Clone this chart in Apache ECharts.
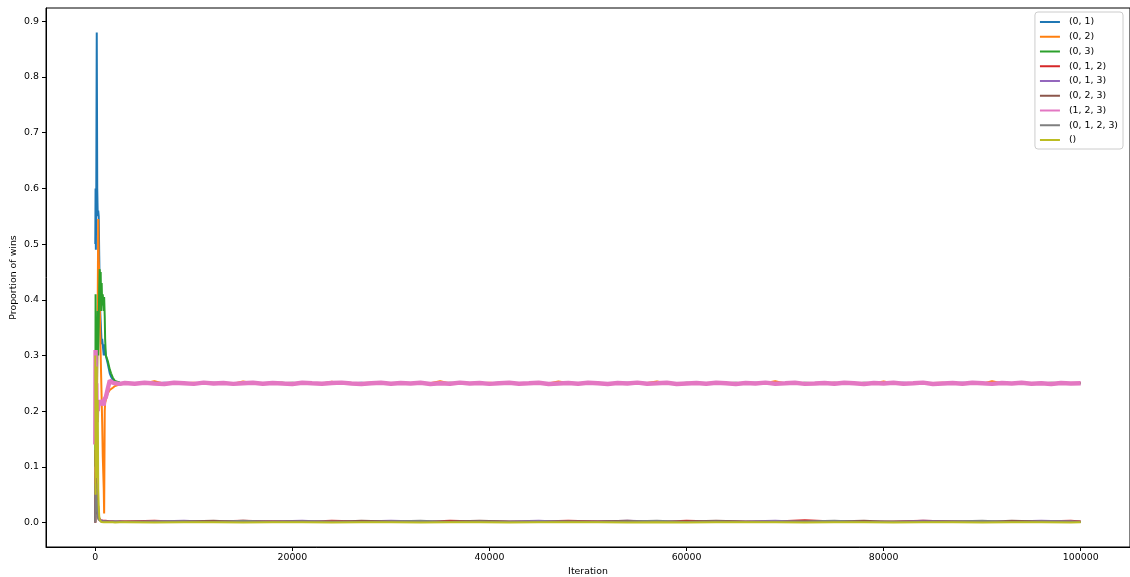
<!DOCTYPE html>
<html>
<head>
<meta charset="utf-8">
<script src="https://cdn.jsdelivr.net/npm/echarts@6/dist/echarts.min.js"></script>
<style>
  html, body { margin: 0; padding: 0; background: #fff; }
  #chart { width: 1130px; height: 577px; }
</style>
</head>
<body>
<div id="chart"></div>
<script>
// Coalitions tracked during training
const seriesNames = ['(0, 1)', '(0, 2)', '(0, 3)', '(0, 1, 2)', '(0, 1, 3)', '(0, 2, 3)', '(1, 2, 3)', '(0, 1, 2, 3)', '()'];
const colors = ['#1f77b4', '#ff7f0e', '#2ca02c', '#d62728', '#9467bd', '#8c564b', '#e377c2', '#7f7f7f', '#bcbd22'];
const lineWidths = [2, 2, 2, 2, 2, 2, 4.4, 2, 2];

const xTicks = [0, 20000, 40000, 60000, 80000, 100000];
const yTicks = [0.0, 0.1, 0.2, 0.3, 0.4, 0.5, 0.6, 0.7, 0.8, 0.9];

// Iterations sampled during the early, unsettled phase
const earlyIters = [0, 30, 60, 100, 150, 200, 250, 300, 350, 400, 450, 500, 550, 600, 650, 700, 760, 860, 900, 960, 1000, 1070, 1270, 1470, 1600, 1780, 2000, 2500];

// Iterations sampled once the proportions have settled
const fineIters = [3000, 4000, 5000, 6000, 7000, 8000, 9000, 10000, 11000, 12000,
  13000, 14000, 15000, 16000, 17000, 18000, 19000, 20000, 21000, 22000,
  23000, 24000, 25000, 26000, 27000, 28000, 29000, 30000, 31000, 32000,
  33000, 34000, 35000, 36000, 37000, 38000, 39000, 40000, 41000, 42000,
  43000, 44000, 45000, 46000, 47000, 48000, 49000, 50000, 51000, 52000,
  53000, 54000, 55000, 56000, 57000, 58000, 59000, 60000, 61000, 62000,
  63000, 64000, 65000, 66000, 67000, 68000, 69000, 70000, 71000, 72000,
  73000, 74000, 75000, 76000, 77000, 78000, 79000, 80000, 81000, 82000,
  83000, 84000, 85000, 86000, 87000, 88000, 89000, 90000, 91000, 92000,
  93000, 94000, 95000, 96000, 97000, 98000, 99000, 99999];
const coarseIters = [3000, 6000, 9000, 12000, 15000, 18000, 21000, 24000, 27000, 30000,
  33000, 36000, 39000, 42000, 45000, 48000, 51000, 54000, 57000, 60000,
  63000, 66000, 69000, 72000, 75000, 78000, 81000, 84000, 87000, 90000,
  93000, 96000, 99000, 99999];

// (0, 1)
const early01 = [0.50, 0.60, 0.49, 0.58, 0.88, 0.60, 0.55, 0.56, 0.55, 0.48, 0.42, 0.38, 0.36, 0.34, 0.32, 0.33, 0.33, 0.30, 0.31, 0.32, 0.31, 0.30, 0.285, 0.268, 0.262, 0.256, 0.253, 0.251];
const late01 = [0.2500,0.2495,0.2505,0.2492,0.2508,0.2500,0.2495,0.2505,0.2500,0.2492,
  0.2508,0.2495,0.2500,0.2505,0.2492,0.2500,0.2508,0.2495,0.2505,0.2500,
  0.2492,0.2505,0.2500,0.2495,0.2508,0.2492,0.2500,0.2505,0.2495,0.2500,
  0.2508,0.2492,0.2505,0.2500,0.2495,0.2505,0.2492,0.2500,0.2508,0.2495,
  0.2500,0.2505,0.2492,0.2495,0.2508,0.2500,0.2505,0.2495,0.2492,0.2500,
  0.2505,0.2508,0.2495,0.2500,0.2492,0.2505,0.2500,0.2495,0.2508,0.2500,
  0.2492,0.2505,0.2495,0.2500,0.2508,0.2492,0.2500,0.2505,0.2495,0.2500,
  0.2505,0.2492,0.2508,0.2495,0.2500,0.2505,0.2495,0.2492,0.2500,0.2508,
  0.2495,0.2500,0.2505,0.2492,0.2500,0.2508,0.2495,0.2505,0.2500,0.2492,
  0.2505,0.2495,0.2500,0.2508,0.2492,0.2500,0.2505,0.2500];

// (0, 2)
const early02 = [0.00, 0.10, 0.05, 0.18, 0.12, 0.28, 0.40, 0.545, 0.47, 0.45, 0.40, 0.34, 0.30, 0.26, 0.22, 0.18, 0.12, 0.06, 0.016, 0.20, 0.215, 0.22, 0.232, 0.238, 0.240, 0.242, 0.245, 0.248];
const late02 = [0.2495,0.2505,0.2500,0.2535,0.2492,0.2505,0.2500,0.2508,0.2495,0.2505,
  0.2500,0.2492,0.2532,0.2500,0.2495,0.2505,0.2508,0.2492,0.2500,0.2505,
  0.2495,0.2530,0.2500,0.2492,0.2505,0.2508,0.2495,0.2500,0.2505,0.2492,
  0.2505,0.2500,0.2536,0.2495,0.2492,0.2505,0.2500,0.2508,0.2495,0.2505,
  0.2492,0.2505,0.2500,0.2495,0.2534,0.2505,0.2492,0.2500,0.2508,0.2495,
  0.2505,0.2492,0.2500,0.2505,0.2531,0.2495,0.2500,0.2505,0.2492,0.2505,
  0.2508,0.2495,0.2500,0.2492,0.2505,0.2505,0.2535,0.2495,0.2500,0.2492,
  0.2505,0.2500,0.2508,0.2495,0.2505,0.2492,0.2500,0.2533,0.2495,0.2505,
  0.2500,0.2492,0.2505,0.2508,0.2495,0.2500,0.2505,0.2492,0.2536,0.2500,
  0.2495,0.2505,0.2505,0.2492,0.2500,0.2508,0.2495,0.2505];

// (0, 3)
const early03 = [0.10, 0.41, 0.25, 0.35, 0.20, 0.30, 0.38, 0.30, 0.36, 0.42, 0.455, 0.40, 0.45, 0.38, 0.43, 0.39, 0.41, 0.38, 0.405, 0.37, 0.33, 0.30, 0.29, 0.275, 0.268, 0.26, 0.254, 0.251];
const late03 = [0.2505,0.2500,0.2492,0.2508,0.2495,0.2500,0.2505,0.2492,0.2500,0.2508,
  0.2495,0.2505,0.2500,0.2492,0.2505,0.2495,0.2500,0.2508,0.2492,0.2500,
  0.2505,0.2495,0.2508,0.2500,0.2492,0.2505,0.2495,0.2500,0.2508,0.2492,
  0.2500,0.2505,0.2495,0.2508,0.2500,0.2492,0.2505,0.2500,0.2495,0.2508,
  0.2492,0.2500,0.2505,0.2495,0.2500,0.2508,0.2492,0.2505,0.2500,0.2495,
  0.2500,0.2492,0.2508,0.2505,0.2495,0.2500,0.2492,0.2508,0.2500,0.2505,
  0.2495,0.2500,0.2508,0.2492,0.2505,0.2495,0.2500,0.2505,0.2492,0.2508,
  0.2500,0.2495,0.2505,0.2500,0.2492,0.2508,0.2500,0.2495,0.2505,0.2500,
  0.2492,0.2508,0.2495,0.2505,0.2500,0.2492,0.2500,0.2508,0.2495,0.2505,
  0.2500,0.2492,0.2505,0.2495,0.2508,0.2500,0.2495,0.2500];

// (0, 1, 2)
const early012 = [0.00, 0.13, 0.05, 0.10, 0.03, 0.06, 0.02, 0.03, 0.012, 0.008, 0.006, 0.005, 0.004, 0.004, 0.003, 0.003, 0.003, 0.003, 0.002, 0.003, 0.002, 0.003, 0.002, 0.002, 0.003, 0.002, 0.002, 0.002];
const late012 = [0.002,0.003,0.001,0.002,0.003,0.002,0.001,0.003,0.002,0.002,0.001,0.003,0.002,0.001,0.002,0.003,0.002,0.002,0.001,0.003,0.002,0.001,0.002,0.004,0.002,0.001,0.002,0.003,0.002,0.002,0.001,0.002,0.003,0.002];

// (0, 1, 3)
const early013 = [0.00, 0.06, 0.11, 0.04, 0.07, 0.02, 0.03, 0.012, 0.008, 0.006, 0.005, 0.004, 0.003, 0.003, 0.003, 0.002, 0.003, 0.002, 0.002, 0.002, 0.002, 0.002, 0.002, 0.002, 0.001, 0.002, 0.002, 0.002];
const late013 = [0.001,0.002,0.003,0.001,0.002,0.002,0.003,0.001,0.002,0.003,0.002,0.001,0.002,0.002,0.003,0.001,0.002,0.003,0.002,0.001,0.002,0.002,0.003,0.001,0.002,0.002,0.001,0.003,0.002,0.001,0.002,0.003,0.002,0.001];

// (0, 2, 3)
const early023 = [0.00, 0.05, 0.09, 0.03, 0.05, 0.015, 0.02, 0.01, 0.006, 0.005, 0.004, 0.003, 0.003, 0.002, 0.003, 0.002, 0.002, 0.002, 0.002, 0.002, 0.002, 0.002, 0.001, 0.002, 0.002, 0.002, 0.001, 0.002];
const late023 = [0.002,0.001,0.002,0.003,0.001,0.002,0.002,0.001,0.003,0.002,0.001,0.002,0.003,0.002,0.001,0.002,0.002,0.003,0.001,0.002,0.003,0.002,0.001,0.002,0.002,0.003,0.001,0.002,0.002,0.001,0.003,0.002,0.001,0.002];

// (1, 2, 3)
const early123 = [0.14, 0.31, 0.20, 0.25, 0.18, 0.22, 0.20, 0.21, 0.22, 0.21, 0.22, 0.215, 0.22, 0.21, 0.22, 0.215, 0.22, 0.21, 0.22, 0.219, 0.222, 0.225, 0.240, 0.255, 0.254, 0.251, 0.250, 0.249];
const late123 = [0.2506,0.2492,0.2509,0.2497,0.2488,0.2510,0.2500,0.2490,0.2512,0.2496,
  0.2505,0.2489,0.2500,0.2509,0.2492,0.2506,0.2496,0.2488,0.2510,0.2500,
  0.2491,0.2506,0.2512,0.2497,0.2488,0.2500,0.2509,0.2492,0.2505,0.2496,
  0.2510,0.2488,0.2500,0.2491,0.2512,0.2496,0.2506,0.2489,0.2500,0.2509,
  0.2492,0.2500,0.2510,0.2488,0.2497,0.2506,0.2491,0.2509,0.2500,0.2488,
  0.2505,0.2496,0.2512,0.2492,0.2500,0.2509,0.2488,0.2497,0.2506,0.2491,
  0.2510,0.2500,0.2488,0.2505,0.2496,0.2512,0.2492,0.2500,0.2509,0.2489,
  0.2497,0.2506,0.2491,0.2510,0.2500,0.2488,0.2505,0.2496,0.2509,0.2492,
  0.2500,0.2512,0.2488,0.2497,0.2506,0.2491,0.2510,0.2500,0.2489,0.2505,
  0.2496,0.2509,0.2492,0.2500,0.2488,0.2506,0.2497,0.2500];

// (0, 1, 2, 3)
const early0123 = [0.00, 0.07, 0.03, 0.06, 0.02, 0.04, 0.01, 0.01, 0.005, 0.004, 0.003, 0.003, 0.002, 0.002, 0.002, 0.002, 0.002, 0.001, 0.002, 0.002, 0.001, 0.002, 0.002, 0.001, 0.002, 0.001, 0.002, 0.001];
const late0123 = [0.001,0.002,0.002,0.001,0.003,0.001,0.002,0.002,0.001,0.002,0.003,0.001,0.002,0.001,0.002,0.002,0.001,0.002,0.003,0.001,0.002,0.001,0.002,0.002,0.003,0.001,0.002,0.001,0.002,0.003,0.001,0.002,0.002,0.001];

// ()
const earlyEmpty = [0.30, 0.05, 0.27, 0.08, 0.28, 0.10, 0.22, 0.06, 0.03, 0.012, 0.005, 0.003, 0.002, 0.001, 0.001, 0.001, 0.0005, 0.0005, 0.0004, 0.0004, 0.0003, 0.0003, 0.0003, 0.0003, 0.0002, 0.0003, 0.0002, 0.0003];
const lateEmpty = [0.0003,0.0002,0.0004,0.0003,0.0002,0.0003,0.0004,0.0002,0.0003,0.0003,0.0002,0.0004,0.0003,0.0002,0.0003,0.0003,0.0004,0.0002,0.0003,0.0002,0.0003,0.0004,0.0003,0.0002,0.0003,0.0003,0.0002,0.0004,0.0003,0.0002,0.0003,0.0003,0.0002,0.0003];

const earlyValues = [early01, early02, early03, early012, early013, early023, early123, early0123, earlyEmpty];
const lateValues = [late01, late02, late03, late012, late013, late023, late123, late0123, lateEmpty];
const lateIters = [fineIters, fineIters, fineIters, coarseIters, coarseIters, coarseIters, fineIters, coarseIters, coarseIters];

function pairs(iters, vals) {
  return iters.map((it, i) => [it, vals[i]]);
}

const series = seriesNames.map((name, k) => ({
  name: name,
  type: 'line',
  data: pairs(earlyIters, earlyValues[k]).concat(pairs(lateIters[k], lateValues[k])),
  showSymbol: false,
  symbol: 'none',
  lineStyle: { width: lineWidths[k], color: colors[k] },
  itemStyle: { color: colors[k] },
  emphasis: { disabled: true },
  animation: false
}));

const font = 'DejaVu Sans';
const fs = 9.4;
const chart = echarts.init(document.getElementById('chart'), null, { renderer: 'canvas' });
chart.setOption({
  animation: false,
  color: colors,
  grid: {
    left: 46, right: 0, top: 8, bottom: 30,
    containLabel: false,
    outerBoundsMode: 'none',
    show: true, borderColor: '#000', borderWidth: 1, backgroundColor: 'transparent'
  },
  legend: {
    orient: 'vertical',
    right: 7,
    top: 12,
    padding: [4, 5, 3, 5],
    itemWidth: 20,
    itemHeight: 2,
    itemGap: 2.75,
    icon: 'rect',
    borderColor: '#ccc',
    borderWidth: 1,
    borderRadius: 3,
    backgroundColor: 'rgba(255,255,255,0.8)',
    textStyle: { fontFamily: font, fontSize: fs, color: '#000', lineHeight: 12, padding: [0, 0, 0, 4] },
    data: seriesNames
  },
  xAxis: {
    type: 'value',
    min: -5000,
    max: 105000,
    name: 'Iteration',
    nameLocation: 'middle',
    nameGap: 20,
    nameMoveOverlap: false,
    nameTextStyle: { fontFamily: font, fontSize: fs, color: '#000' },
    axisLine: { show: true, onZero: false, lineStyle: { color: '#000', width: 1 } },
    axisTick: { show: true, length: 4, lineStyle: { color: '#000' }, customValues: xTicks },
    axisLabel: { fontFamily: font, fontSize: fs, color: '#000', margin: 6, customValues: xTicks, formatter: v => String(v) },
    splitLine: { show: false }
  },
  yAxis: {
    type: 'value',
    min: -0.044,
    max: 0.924,
    name: 'Proportion of wins',
    nameLocation: 'middle',
    nameGap: 28,
    nameMoveOverlap: false,
    nameTextStyle: { fontFamily: font, fontSize: fs, color: '#000' },
    axisLine: { show: true, onZero: false, lineStyle: { color: '#000', width: 1 } },
    axisTick: { show: true, length: 4, lineStyle: { color: '#000' }, customValues: yTicks },
    axisLabel: { fontFamily: font, fontSize: fs, color: '#000', margin: 7, customValues: yTicks, formatter: v => v.toFixed(1) },
    splitLine: { show: false }
  },
  series: series
});
</script>
</body>
</html>
